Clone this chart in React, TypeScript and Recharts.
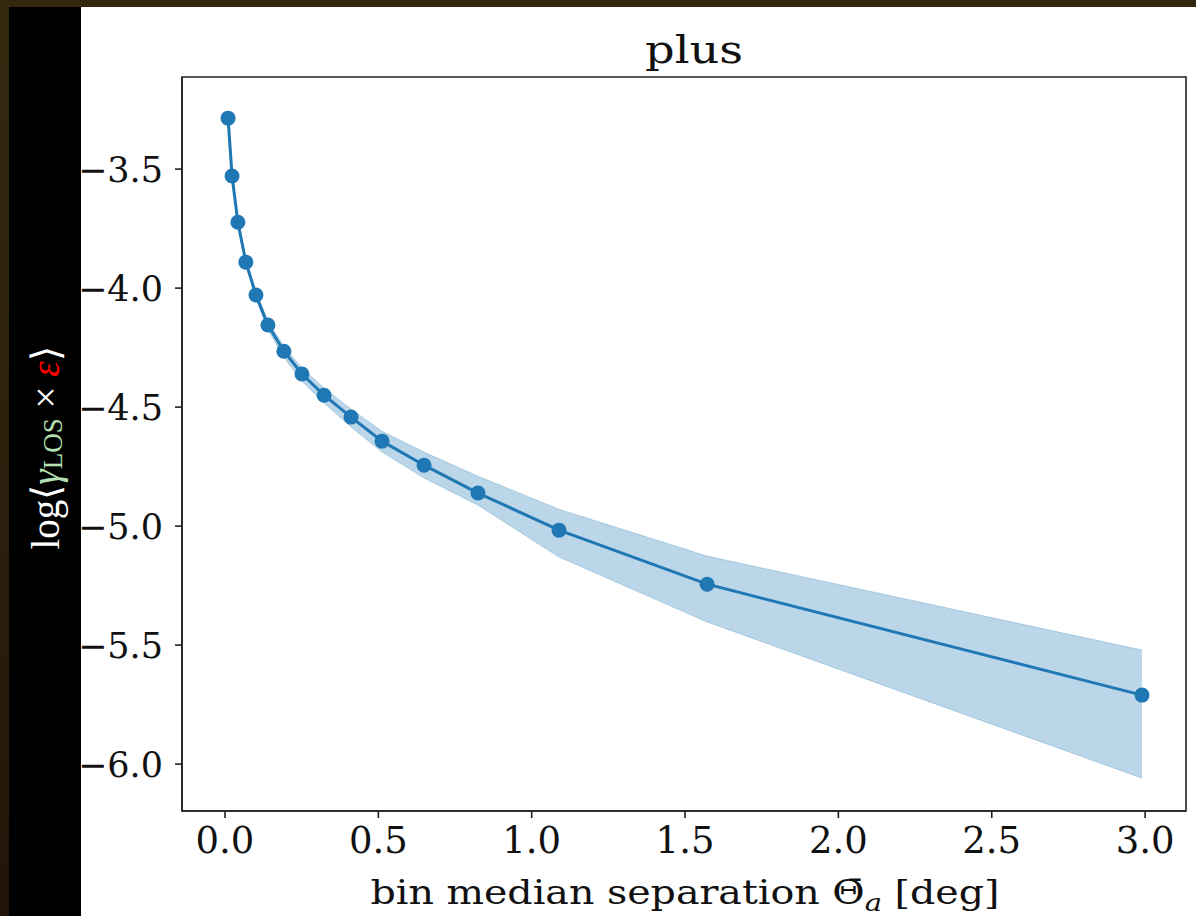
import { Area, ComposedChart, Label, Line, ReferenceArea, XAxis, YAxis } from "recharts";

// bin median separation (deg) and log<gamma_LOS x eps> with its band
const separation = [
  0.01, 0.023, 0.042, 0.068, 0.101, 0.14, 0.192, 0.251, 0.323, 0.411, 0.512,
  0.649, 0.825, 1.089, 1.572, 2.99,
];
const logMean = [
  -3.286, -3.529, -3.723, -3.891, -4.029, -4.155, -4.265, -4.361, -4.45,
  -4.542, -4.643, -4.744, -4.861, -5.017, -5.244, -5.71,
];
const logHigh = [
  -3.277, -3.521, -3.71, -3.878, -4.013, -4.139, -4.244, -4.336, -4.42,
  -4.508, -4.601, -4.689, -4.79, -4.929, -5.126, -5.521,
];
const logLow = [
  -3.294, -3.538, -3.735, -3.903, -4.046, -4.176, -4.29, -4.391, -4.483,
  -4.584, -4.689, -4.798, -4.912, -5.13, -5.403, -6.059,
];
const xTicks = [0, 0.5, 1, 1.5, 2, 2.5, 3];
const yTicks = [-6, -5.5, -5, -4.5, -4, -3.5];

const data = separation.map((x, i) => ({
  x,
  mean: logMean[i],
  band: [logLow[i], logHigh[i]],
}));

const xDomain: [number, number] = [-0.1402, 3.1334];
const yDomain: [number, number] = [-6.197, -3.113];
const blue = "#1f77b4";
const axisColor = "#222";

export default function App() {
  return (
    <div
      style={{
        position: "fixed",
        left: 0,
        top: 0,
        width: 1196,
        height: 916,
        overflow: "hidden",
        background: "linear-gradient(180deg, #34290f 0%, #2c1d0c 60%, #241408 100%)",
      }}
    >
      <div style={{ position: "absolute", left: 9, top: 7, width: 72, height: 909, background: "#000" }} />
      <div style={{ position: "absolute", left: 81, top: 7, width: 1115, height: 909, background: "#fff" }} />
      <div style={{ position: "absolute", left: 9, top: 7 }}>
        <ComposedChart
          width={1187}
          height={909}
          data={data}
          margin={{ top: 70, right: 10, bottom: 0, left: 0 }}
        >
          <XAxis
            dataKey="x"
            type="number"
            domain={xDomain}
            ticks={xTicks}
            tickFormatter={(v: number) => v.toFixed(1)}
            allowDataOverflow
            height={105}
            stroke={axisColor}
            strokeWidth={1.6}
            tickSize={7}
            tickMargin={9}
            tick={{ fill: "#111", fontSize: 37, fontFamily: "DejaVu Serif" }}
          >
            <Label
              content={() => (
                <text
                  x={676}
                  y={897}
                  textAnchor="middle"
                  fontFamily="DejaVu Serif"
                  fontSize={34}
                  fill="#111"
                  textLength={629}
                  lengthAdjust="spacingAndGlyphs"
                >
                  bin median separation {"\u0398\u0304"}
                  <tspan fontStyle="italic" fontSize={25} dy={7}>a</tspan>
                  <tspan dy={-7}> [deg]</tspan>
                </text>
              )}
            />
          </XAxis>
          <YAxis
            type="number"
            domain={yDomain}
            ticks={yTicks}
            tickFormatter={(v: number) => v.toFixed(1).replace("-", "\u2212")}
            allowDataOverflow
            width={173}
            stroke={axisColor}
            strokeWidth={1.6}
            tickSize={7}
            tickMargin={12}
            tick={{ fill: "#111", fontSize: 35, fontFamily: "DejaVu Serif" }}
          >
            <Label
              content={() => (
                <text
                  transform="rotate(-90, 36, 441)"
                  x={36}
                  y={441}
                  textAnchor="middle"
                  dominantBaseline="central"
                  fontFamily="Liberation Serif"
                  fontSize={39}
                  fill="#fff"
                >
                  log{"\u27E8"}
                  <tspan fill="#b4e0b2" fontStyle="italic">{"\u03B3"}</tspan>
                  <tspan fill="#b4e0b2" fontSize={27} dy={8}>LOS</tspan>
                  <tspan dy={-8}> × </tspan>
                  <tspan fill="#ff0000" fontStyle="italic">{"\u03B5"}</tspan>
                  {"\u27E9"}
                </text>
              )}
            />
          </YAxis>
          <ReferenceArea
            x1={xDomain[0]}
            x2={xDomain[1]}
            y1={yDomain[0]}
            y2={yDomain[1]}
            fill="none"
            stroke={axisColor}
            strokeWidth={1.6}
            ifOverflow="visible"
          />
          <Area
            type="linear"
            dataKey="band"
            fill={blue}
            fillOpacity={0.3}
            stroke={blue}
            strokeOpacity={0.25}
            strokeWidth={1}
            isAnimationActive={false}
            activeDot={false}
          />
          <Line
            type="linear"
            dataKey="mean"
            stroke={blue}
            strokeWidth={3}
            dot={{ r: 7.5, fill: blue, stroke: blue, strokeWidth: 0 }}
            activeDot={false}
            isAnimationActive={false}
          />
          <text
            x={685}
            y={56}
            textAnchor="middle"
            fontFamily="DejaVu Serif"
            fontSize={40}
            fill="#111"
            textLength={98}
            lengthAdjust="spacingAndGlyphs"
          >
            plus
          </text>
        </ComposedChart>
      </div>
    </div>
  );
}
